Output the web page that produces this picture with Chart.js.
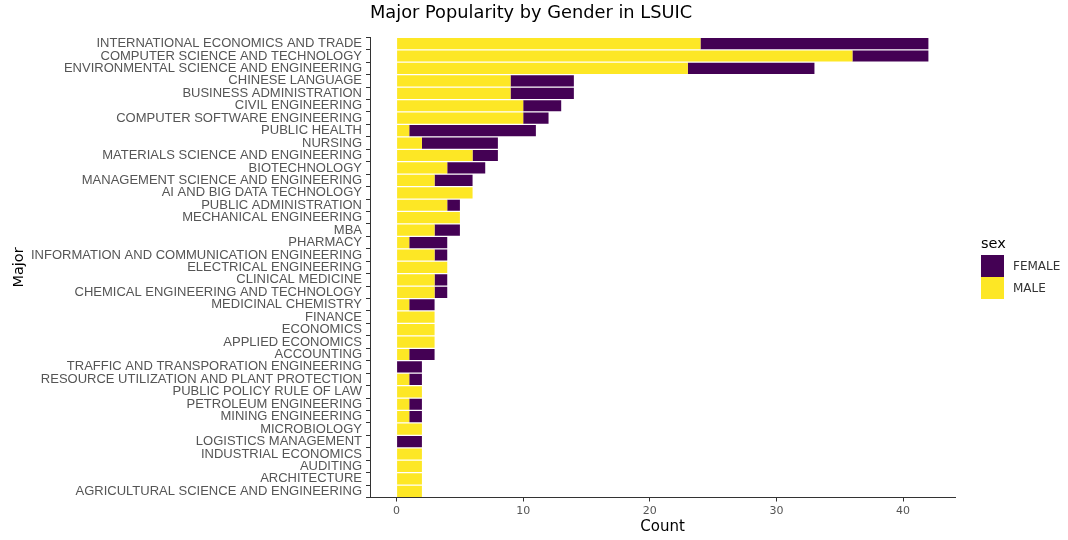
<!DOCTYPE html>
<html lang="en">
<head>
    <meta charset="UTF-8">
    <title>Major Popularity by Gender in LSUIC</title>
    <style>
        body{
            margin:0;
            background:#fff;
        }
        #wrap{
            position:relative;
            width:1068px;
            height:540px;
        }
        #legend{
            position:absolute;
            left:981px;
            top:233px;
            font-family:'DejaVu Sans', sans-serif;
        }
        #legend .ttl{
            font-size:14.5px;
            color:#000;
            height:22px;
            line-height:20px;
        }
        #legend .row{
            height:22px;
            display:flex;
            align-items:center;
        }
        #legend .sw{
            width:23px;
            height:22px;
            margin-right:9px;
        }
        #legend .lb{
            font-size:12px;
            color:#333;
        }
    </style>
</head>
<body>
    <div id="wrap">
        <canvas id="myc" width="1068" height="540"></canvas>
        <div id="legend"></div>
    </div>

    <script src="https://cdn.jsdelivr.net/npm/chart.js"></script>
    <script>
        // majors, top to bottom as in the picture
        var majors = [
            'INTERNATIONAL ECONOMICS AND TRADE',
            'COMPUTER SCIENCE AND TECHNOLOGY',
            'ENVIRONMENTAL SCIENCE AND ENGINEERING',
            'CHINESE LANGUAGE',
            'BUSINESS ADMINISTRATION',
            'CIVIL ENGINEERING',
            'COMPUTER SOFTWARE ENGINEERING',
            'PUBLIC HEALTH',
            'NURSING',
            'MATERIALS SCIENCE AND ENGINEERING',
            'BIOTECHNOLOGY',
            'MANAGEMENT SCIENCE AND ENGINEERING',
            'AI AND BIG DATA TECHNOLOGY',
            'PUBLIC ADMINISTRATION',
            'MECHANICAL ENGINEERING',
            'MBA',
            'PHARMACY',
            'INFORMATION AND COMMUNICATION ENGINEERING',
            'ELECTRICAL ENGINEERING',
            'CLINICAL MEDICINE',
            'CHEMICAL ENGINEERING AND TECHNOLOGY',
            'MEDICINAL CHEMISTRY',
            'FINANCE',
            'ECONOMICS',
            'APPLIED ECONOMICS',
            'ACCOUNTING',
            'TRAFFIC AND TRANSPORATION ENGINEERING',
            'RESOURCE UTILIZATION AND PLANT PROTECTION',
            'PUBLIC POLICY RULE OF LAW',
            'PETROLEUM ENGINEERING',
            'MINING ENGINEERING',
            'MICROBIOLOGY',
            'LOGISTICS MANAGEMENT',
            'INDUSTRIAL ECONOMICS',
            'AUDITING',
            'ARCHITECTURE',
            'AGRICULTURAL SCIENCE AND ENGINEERING'
        ];
        var male   = [24,36,23,9,9,10,10,1,2,6,4,3,6,4,5,3,1,3,4,3,3,1,3,3,3,1,0,1,2,1,1,2,0,2,2,2,2];
        var female = [18,6,10,5,5,3,2,10,6,2,3,3,0,1,0,2,3,1,0,1,1,2,0,0,0,2,2,1,0,1,1,0,2,0,0,0,0];
        var xTicks = [0,10,20,30,40];

        var sexNames  = ['FEMALE','MALE'];
        var sexColors = {FEMALE:'#440154', MALE:'#FDE725'};
        var fontFam = "'DejaVu Sans', sans-serif";
        var labelFam = "'Liberation Sans', Arial, sans-serif";

        var ctx = document.getElementById('myc').getContext('2d');
        var myChart = new Chart(ctx,{
            type:'bar',
            data:{
                labels:majors,
                datasets:[
                    {label:'MALE', data:male, backgroundColor:sexColors.MALE, borderWidth:0,
                     barPercentage:0.9, categoryPercentage:1.0},
                    {label:'FEMALE', data:female, backgroundColor:sexColors.FEMALE, borderWidth:0,
                     barPercentage:0.9, categoryPercentage:1.0}
                ]
            },
            options:{
                indexAxis:'y',
                responsive:false,
                animation:false,
                layout:{padding:{left:8, right:113, top:0, bottom:4}},
                plugins:{
                    title:{
                        display:true,
                        text:'Major Popularity by Gender in LSUIC',
                        align:'start',
                        fullSize:false,
                        color:'#000',
                        font:{family:fontFam, size:17.8, weight:'normal'},
                        padding:{top:3, bottom:13}
                    },
                    legend:{display:false},
                    tooltip:{enabled:false}
                },
                scales:{
                    x:{
                        stacked:true,
                        type:'linear',
                        min:-2.1,
                        max:44.1,
                        afterBuildTicks:function(axis){
                            axis.ticks = xTicks.map(function(v){ return {value:v}; });
                        },
                        afterFit:function(axis){ axis.height = 38.5; },
                        grid:{drawOnChartArea:false, drawTicks:true, tickLength:4, color:'#333'},
                        border:{display:true, color:'#333', width:1},
                        ticks:{color:'#555', padding:3,
                            font:{family:fontFam, size:11}},
                        title:{display:true, text:'Count', color:'#000', padding:{top:0,bottom:0},
                            font:{family:fontFam, size:15}}
                    },
                    y:{
                        stacked:true,
                        afterFit:function(axis){ axis.width = 362; },
                        grid:{drawOnChartArea:false, drawTicks:true, tickLength:4, color:'#333'},
                        border:{display:true, color:'#333', width:1},
                        ticks:{color:'#555', autoSkip:false, padding:4,
                            font:{family:labelFam, size:13}},
                        title:{display:true, text:'Major', color:'#000', padding:{top:3,bottom:0},
                            font:{family:fontFam, size:14.5}}
                    }
                }
            }
        });

        // legend drawn beside the plot, FEMALE first like the picture
        var lg = document.getElementById('legend');
        var html = '<div class="ttl">sex</div>';
        sexNames.forEach(function(n){
            html += '<div class="row"><div class="sw" style="background:' + sexColors[n] + '"></div><span class="lb">' + n + '</span></div>';
        });
        lg.innerHTML = html;
    </script>
</body>
</html>
